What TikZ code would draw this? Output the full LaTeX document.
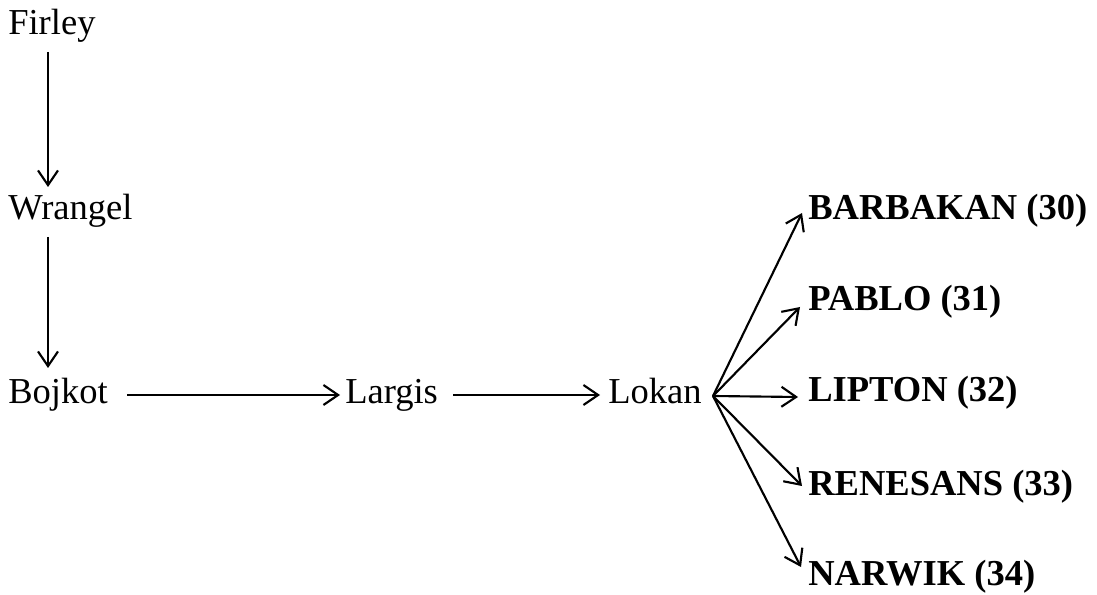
\documentclass[tikz,border=0pt]{standalone}
\usepackage{fontspec}
\setmainfont{Liberation Serif}
\usetikzlibrary{arrows.meta}
\begin{document}
\begin{tikzpicture}[x=0.75pt,y=-0.75pt,
  lbl/.style={anchor=base west,inner sep=0pt,font=\fontsize{27.4}{33}\selectfont},
  blbl/.style={lbl,font=\fontsize{27.4}{33}\selectfont\bfseries},
  arr/.style={line width=1.6pt,-{Straight Barb[length=11pt,width=15pt,line width=1.6pt]}}]
\useasboundingbox (0,0) rectangle (1097,595);
\node[lbl] (firley) at (8,35) {Firley};
\node[lbl] (wrangel) at (8,220) {Wrangel};
\node[lbl] (bojkot) at (8,404) {Bojkot};
\node[lbl] (largis) at (345,404) {Largis};
\node[lbl] (lokan) at (608,404) {Lokan};
\node[blbl] (barbakan) at (808,220) {BARBAKAN (30)};
\node[blbl] (pablo) at (808,311) {PABLO (31)};
\node[blbl] (lipton) at (808,402) {LIPTON (32)};
\node[blbl] (renesans) at (808,495) {RENESANS (33)};
\node[blbl] (narwik) at (808,585) {NARWIK (34)};
\coordinate (fan) at ([shift={(105,-8)}]lokan.base west);
\draw[arr] ([shift={(40,17)}]firley.base west) -- ([shift={(40,-33)}]wrangel.base west);
\draw[arr] ([shift={(40,17)}]wrangel.base west) -- ([shift={(40,-36)}]bojkot.base west);
\draw[arr] ([shift={(119,-9)}]bojkot.base west) -- ([shift={(-5,-9)}]largis.base west);
\draw[arr] ([shift={(108,-9)}]largis.base west) -- ([shift={(-8,-9)}]lokan.base west);
\draw[arr] (fan) -- ([shift={(-6,-7)}]barbakan.base west);
\draw[arr] (fan) -- ([shift={(-8,-4)}]pablo.base west);
\draw[arr] (fan) -- ([shift={(-10,-5)}]lipton.base west);
\draw[arr] (fan) -- ([shift={(-6,-9)}]renesans.base west);
\draw[arr] (fan) -- ([shift={(-7,-18)}]narwik.base west);
\end{tikzpicture}
\end{document}
